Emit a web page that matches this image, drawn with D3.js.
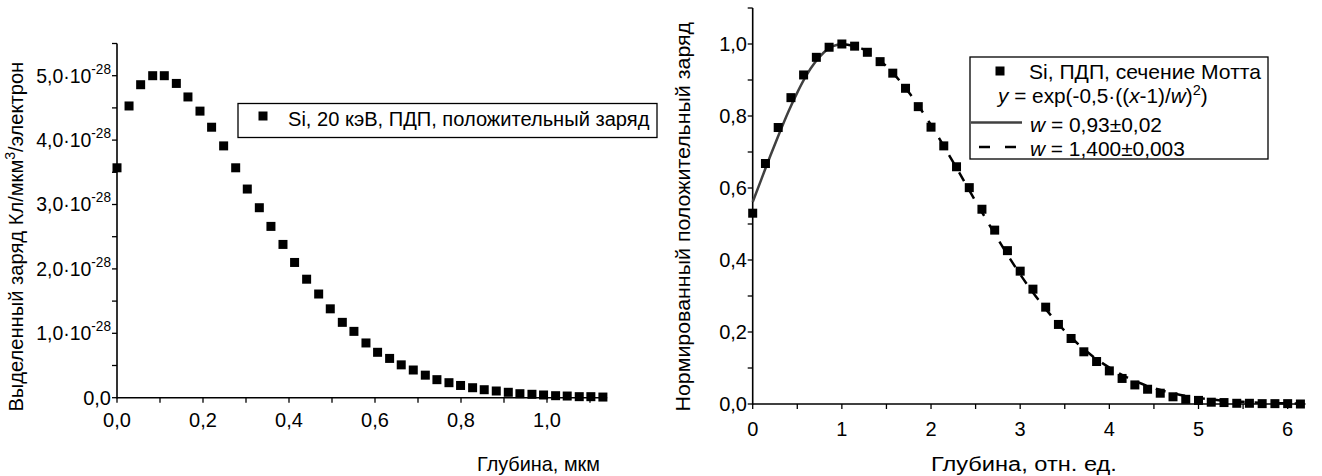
<!DOCTYPE html>
<html>
<head>
<meta charset="utf-8">
<script src="https://cdn.jsdelivr.net/npm/d3@7"></script>
<style>
  html, body { margin: 0; padding: 0; background: #fff; }
  svg text { font-family: "Liberation Sans", Arial, sans-serif; fill: #000; }
</style>
</head>
<body>
<svg id="chart" width="1322" height="476"></svg>
<script>
// ---------- Left chart data ----------
const leftDepth = [0, 0.028, 0.055, 0.083, 0.110, 0.138, 0.165, 0.193, 0.220, 0.248, 0.276, 0.303, 0.331, 0.358,
  0.386, 0.413, 0.441, 0.469, 0.496, 0.524, 0.551, 0.579, 0.606, 0.634, 0.661, 0.689, 0.717, 0.744, 0.772, 0.799,
  0.827, 0.854, 0.882, 0.910, 0.937, 0.965, 0.992, 1.020, 1.047, 1.075, 1.102, 1.130];
// charge in units of 1e-28 C/µm³/electron
const leftCharge = [3.57, 4.53, 4.86, 5.00, 5.00, 4.88, 4.67, 4.45, 4.20, 3.91, 3.57, 3.24, 2.95, 2.66,
  2.38, 2.10, 1.84, 1.61, 1.38, 1.17, 1.03, 0.85, 0.705, 0.61, 0.51, 0.43, 0.35, 0.28, 0.233, 0.19,
  0.155, 0.124, 0.104, 0.084, 0.062, 0.053, 0.042, 0.031, 0.026, 0.016, 0.016, 0.01];
const leftXTicks = [0, 0.2, 0.4, 0.6, 0.8, 1.0];
const leftXTickLabels = ["0,0", "0,2", "0,4", "0,6", "0,8", "1,0"];
const leftXMinor = [0.1, 0.3, 0.5, 0.7, 0.9, 1.1];
const leftYTicks = [0, 1, 2, 3, 4, 5];
const leftYTickMain = ["0,0", "1,0·10", "2,0·10", "3,0·10", "4,0·10", "5,0·10"];
const leftYTickExp = ["", "-28", "-28", "-28", "-28", "-28"];
const leftYMinor = [0.5, 1.5, 2.5, 3.5, 4.5, 5.5];
const leftLegend = "Si, 20 кэВ, ПДП, положительный заряд";
const leftXTitle = "Глубина, мкм";

// ---------- Right chart data ----------
const rightDepth = [0, 0.143, 0.286, 0.429, 0.571, 0.714, 0.857, 1.000, 1.143, 1.286, 1.429, 1.571, 1.714, 1.857,
  2.000, 2.143, 2.286, 2.429, 2.571, 2.714, 2.857, 3.000, 3.143, 3.286, 3.429, 3.571, 3.714, 3.857, 4.000, 4.143,
  4.286, 4.429, 4.571, 4.714, 4.857, 5.000, 5.143, 5.286, 5.429, 5.571, 5.714, 5.857, 6.000, 6.143];
const rightCharge = [0.53, 0.668, 0.768, 0.851, 0.914, 0.963, 0.991, 1.0, 0.994, 0.977, 0.951, 0.919, 0.877, 0.826,
  0.769, 0.717, 0.659, 0.601, 0.541, 0.483, 0.426, 0.369, 0.319, 0.269, 0.221, 0.182, 0.145, 0.118, 0.092, 0.071,
  0.053, 0.041, 0.030, 0.020, 0.013, 0.010, 0.005, 0.004, 0.002, 0.002, 0.001, 0.001, 0.001, 0.0];
// fit curve w = 0.93 (solid)
const fitSolidX = [0, 0.1, 0.2, 0.3, 0.4, 0.5, 0.6, 0.7, 0.8, 0.9, 1.0];
const fitSolidY = [0.561, 0.626, 0.691, 0.753, 0.812, 0.865, 0.912, 0.949, 0.977, 0.994, 1.0];
// fit curve w = 1.4 (dashed)
const fitDashX = [1.0, 1.25, 1.5, 1.75, 2.0, 2.25, 2.5, 2.75, 3.0, 3.25, 3.5, 3.75, 4.0, 4.25, 4.5, 4.75,
  5.0, 5.25, 5.5, 5.75, 6.0, 6.15];
const fitDashY = [1.0, 0.984, 0.938, 0.866, 0.775, 0.671, 0.563, 0.458, 0.360, 0.275, 0.203, 0.145, 0.101,
  0.068, 0.044, 0.028, 0.017, 0.010, 0.006, 0.003, 0.002, 0.001];
const rightXTicks = [0, 1, 2, 3, 4, 5, 6];
const rightXTickLabels = ["0", "1", "2", "3", "4", "5", "6"];
const rightXMinor = [0.5, 1.5, 2.5, 3.5, 4.5, 5.5];
const rightYTicks = [0, 0.2, 0.4, 0.6, 0.8, 1.0];
const rightYTickLabels = ["0,0", "0,2", "0,4", "0,6", "0,8", "1,0"];
const rightYMinor = [0.1, 0.3, 0.5, 0.7, 0.9, 1.1];
const rightXTitle = "Глубина, отн. ед.";
const rightYTitle = "Нормированный положительный заряд";
const rightLegend = ["Si, ПДП, сечение Мотта", "w = 0,93±0,02", "w = 1,400±0,003"];

const svg = d3.select("#chart");
const FS = 20;
const SUP = 14;
const MS = 9; // marker size

// stretch a horizontal text horizontally about the point xa so that its width equals target
function fitH(t, xa, target) {
  const w = t.node().getBBox().width;
  const k = target / w;
  t.attr("transform", `translate(${xa},0) scale(${k},1) translate(${-xa},0)`);
}

function drawAxes(g, x, y, xT, xL, xMinor, yT, yMinor, xLabOff, yLabelFn) {
  const [x0, x1] = x.range();
  const [y0, y1] = y.range();
  const ax = g.append("g");
  ax.append("line").attr("x1", x0).attr("x2", x1).attr("y1", y0).attr("y2", y0)
    .attr("stroke", "#000").attr("stroke-width", 1.6);
  ax.append("line").attr("x1", x0).attr("x2", x0).attr("y1", y0 + 0.8).attr("y2", y1)
    .attr("stroke", "#000").attr("stroke-width", 1.6);
  const xt = xT.concat(xMinor);
  ax.selectAll(".xt").data(xt).enter().append("line")
    .attr("x1", d => x(d)).attr("x2", d => x(d)).attr("y1", y0).attr("y2", y0 + 5)
    .attr("stroke", "#000").attr("stroke-width", 1.3);
  ax.selectAll(".xl").data(xT).enter().append("text")
    .attr("x", d => x(d)).attr("y", y0 + xLabOff).attr("text-anchor", "middle")
    .attr("font-size", FS).text((d, i) => xL[i]);
  const yt = yT.concat(yMinor);
  ax.selectAll(".yt").data(yt).enter().append("line")
    .attr("x1", x0 - 5).attr("x2", x0).attr("y1", d => y(d)).attr("y2", d => y(d))
    .attr("stroke", "#000").attr("stroke-width", 1.3);
  yLabelFn(ax);
}

// ---------------- LEFT CHART ----------------
{
  const g = svg.append("g");
  const x = d3.scaleLinear().domain([0, 1.14]).range([117, 607.2]);
  const y = d3.scaleLinear().domain([0, 5.5]).range([397.7, 43.5]);
  drawAxes(g, x, y, leftXTicks, leftXTickLabels, leftXMinor, leftYTicks, leftYMinor, 29.5, ax => {
    leftYTicks.forEach((v, i) => {
      const t = ax.append("text").attr("x", 111).attr("y", y(v) + 7)
        .attr("text-anchor", "end").attr("font-size", FS);
      t.append("tspan").text(leftYTickMain[i]);
      if (leftYTickExp[i]) {
        t.append("tspan").attr("font-size", SUP).attr("dy", -9).text(leftYTickExp[i]);
        fitH(t, 111, 75);
      }
    });
  });
  g.selectAll(".pt").data(leftDepth).enter().append("rect")
    .attr("x", d => x(d) - MS / 2).attr("y", (d, i) => y(leftCharge[i]) - MS / 2)
    .attr("width", MS).attr("height", MS).attr("fill", "#000");
  // y title
  const yt = g.append("text").attr("text-anchor", "middle").attr("font-size", FS);
  yt.append("tspan").text("Выделенный заряд Кл/мкм");
  yt.append("tspan").attr("font-size", SUP).attr("dy", -8).text("3");
  yt.append("tspan").attr("dy", 8).text("/электрон");
  const lw = yt.node().getBBox().width;
  yt.attr("transform", `translate(23,236.7) rotate(-90) scale(${350 / lw},1)`);
  // x title
  const xtT = g.append("text").attr("x", 477).attr("y", 471).attr("font-size", FS).text(leftXTitle);
  fitH(xtT, 477, 123);
  // legend
  g.append("rect").attr("x", 238).attr("y", 103.5).attr("width", 419).attr("height", 34)
    .attr("fill", "#fff").attr("stroke", "#000").attr("stroke-width", 1.3);
  g.append("rect").attr("x", 263 - MS / 2).attr("y", 116 - MS / 2).attr("width", MS).attr("height", MS).attr("fill", "#000");
  const lg = g.append("text").attr("x", 288).attr("y", 126).attr("font-size", FS).text(leftLegend);
  fitH(lg, 288, 362);
}

// ---------------- RIGHT CHART ----------------
{
  const g = svg.append("g");
  const x = d3.scaleLinear().domain([0, 6.2]).range([752.7, 1305.5]);
  const y = d3.scaleLinear().domain([0, 1.1]).range([404, 8]);
  drawAxes(g, x, y, rightXTicks, rightXTickLabels, rightXMinor, rightYTicks, rightYMinor, 31.5, ax => {
    rightYTicks.forEach((v, i) => {
      ax.append("text").attr("x", 747).attr("y", y(v) + 7)
        .attr("text-anchor", "end").attr("font-size", FS).text(rightYTickLabels[i]);
    });
  });
  const line = d3.line().x(d => x(d[0])).y(d => y(d[1])).curve(d3.curveMonotoneX);
  g.append("path").datum(fitSolidX.map((v, i) => [v, fitSolidY[i]]))
    .attr("d", line).attr("fill", "none").attr("stroke", "#404040").attr("stroke-width", 2.5);
  g.append("path").datum(fitDashX.map((v, i) => [v, fitDashY[i]]))
    .attr("d", line).attr("fill", "none").attr("stroke", "#000").attr("stroke-width", 2.5)
    .attr("stroke-dasharray", "10,10");
  g.selectAll(".pt").data(rightDepth).enter().append("rect")
    .attr("x", d => x(d) - MS / 2).attr("y", (d, i) => y(rightCharge[i]) - MS / 2)
    .attr("width", MS).attr("height", MS).attr("fill", "#000");
  // y title
  const yt = g.append("text").attr("text-anchor", "middle").attr("font-size", FS).text(rightYTitle);
  const rw = yt.node().getBBox().width;
  yt.attr("transform", `translate(690,216.7) rotate(-90) scale(${390 / rw},1)`);
  // x title
  const xtT = g.append("text").attr("x", 931).attr("y", 471).attr("font-size", FS).text(rightXTitle);
  fitH(xtT, 931, 186);
  // legend
  g.append("rect").attr("x", 970).attr("y", 57).attr("width", 298).attr("height", 102)
    .attr("fill", "#fff").attr("stroke", "#000").attr("stroke-width", 1.3);
  g.append("rect").attr("x", 1000 - MS / 2).attr("y", 71 - MS / 2).attr("width", MS).attr("height", MS).attr("fill", "#000");
  const l1 = g.append("text").attr("x", 1029).attr("y", 79).attr("font-size", FS).text(rightLegend[0]);
  fitH(l1, 1029, 233);
  const f = g.append("text").attr("x", 998).attr("y", 103).attr("font-size", FS);
  f.append("tspan").attr("font-style", "italic").text("y");
  f.append("tspan").text(" = exp(-0,5·((");
  f.append("tspan").attr("font-style", "italic").text("x");
  f.append("tspan").text("-1)/");
  f.append("tspan").attr("font-style", "italic").text("w");
  f.append("tspan").text(")");
  f.append("tspan").attr("font-size", SUP).attr("dy", -8).text("2");
  f.append("tspan").attr("dy", 8).text(")");
  fitH(f, 998, 212);
  g.append("line").attr("x1", 971).attr("x2", 1022).attr("y1", 122.5).attr("y2", 122.5)
    .attr("stroke", "#404040").attr("stroke-width", 2.5);
  const t3 = g.append("text").attr("x", 1030).attr("y", 132).attr("font-size", FS);
  t3.append("tspan").attr("font-style", "italic").text(rightLegend[1].slice(0, 1));
  t3.append("tspan").text(rightLegend[1].slice(1));
  fitH(t3, 1030, 132);
  g.append("line").attr("x1", 979).attr("x2", 1016).attr("y1", 147).attr("y2", 147)
    .attr("stroke", "#000").attr("stroke-width", 2.5).attr("stroke-dasharray", "11,15");
  const t4 = g.append("text").attr("x", 1030).attr("y", 156).attr("font-size", FS);
  t4.append("tspan").attr("font-style", "italic").text(rightLegend[2].slice(0, 1));
  t4.append("tspan").text(rightLegend[2].slice(1));
  fitH(t4, 1030, 155);
}
</script>
</body>
</html>
